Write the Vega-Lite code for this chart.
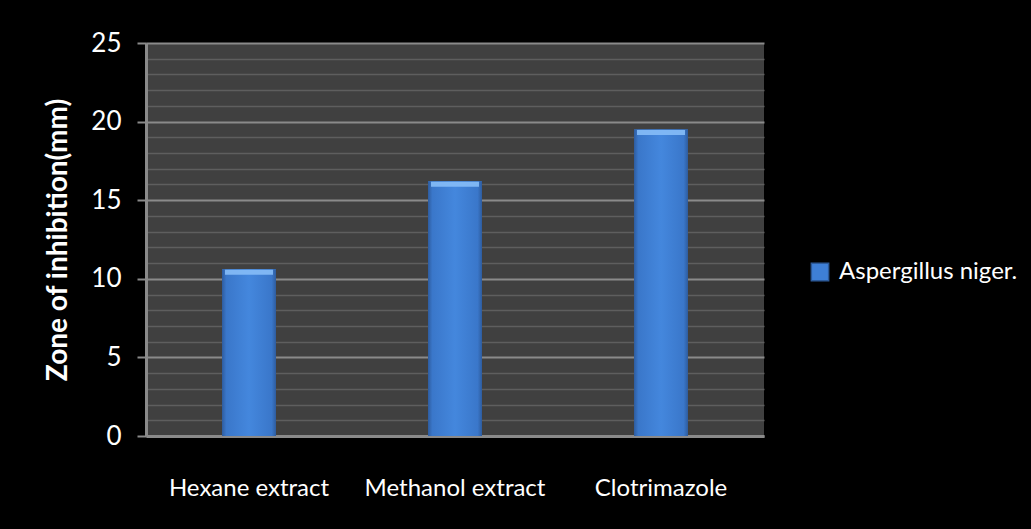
{
  "$schema": "https://vega.github.io/schema/vega-lite/v6.json",
  "autosize": {"type": "none"},
  "padding": {"left": 146, "top": 43, "right": 267, "bottom": 93},
  "width": 618,
  "height": 393,
  "background": "#000000",
  "config": {
    "view": {"fill": "#404040", "stroke": null},
    "font": "Lato"
  },
  "data": {
    "values": [
      {"category": "Hexane extract", "value": 10.6, "series": "Aspergillus niger."},
      {"category": "Methanol extract", "value": 16.2, "series": "Aspergillus niger."},
      {"category": "Clotrimazole", "value": 19.5, "series": "Aspergillus niger."}
    ]
  },
  "encoding": {
    "x": {
      "field": "category",
      "type": "nominal",
      "sort": null,
      "scale": {"paddingInner": 0, "paddingOuter": 0},
      "axis": {
        "title": null,
        "labelAngle": 0,
        "labelColor": "#ffffff",
        "labelFontSize": 24,
        "labelFont": "Lato",
        "labelLimit": 0,
        "labelPadding": 40,
        "ticks": false,
        "domainColor": "#8a8a8a",
        "domainWidth": 3,
        "grid": false
      }
    },
    "y": {
      "field": "value",
      "type": "quantitative",
      "scale": {"domain": [0, 25], "nice": false, "zero": true},
      "axis": {
        "title": "Zone of inhibition(mm)",
        "titleColor": "#ffffff",
        "titleFontSize": 28,
        "titleFont": "Lato",
        "titleFontWeight": "bold",
        "titlePadding": 18,
        "values": [0,1,2,3,4,5,6,7,8,9,10,11,12,13,14,15,16,17,18,19,20,21,22,23,24,25],
        "labelExpr": "datum.value % 5 === 0 ? datum.label : ''",
        "labelColor": "#ffffff",
        "labelFontSize": 26,
        "labelFont": "Lato",
        "labelPadding": 16,
        "tickSize": 9,
        "tickColor": "#8a8a8a",
        "tickWidth": 2,
        "tickOpacity": {"condition": {"test": "datum.value % 5 === 0", "value": 1}, "value": 0},
        "domainColor": "#8a8a8a",
        "domainWidth": 3,
        "grid": true,
        "gridColor": {"condition": {"test": "datum.value % 5 === 0", "value": "#8a8a8a"}, "value": "#5e5e5e"},
        "gridWidth": {"condition": {"test": "datum.value % 5 === 0", "value": 2}, "value": 1.5},
        "gridOpacity": 1
      }
    }
  },
  "layer": [
    {
      "mark": {"type": "bar", "size": 54},
      "encoding": {
        "color": {
          "field": "series",
          "type": "nominal",
          "scale": {"range": ["#3e7fd6"]},
          "legend": {
            "title": null,
            "orient": "none",
            "legendX": 662,
            "legendY": 217,
            "symbolType": "square",
            "symbolSize": 300,
            "symbolStrokeColor": "#2c5a9a",
            "symbolStrokeWidth": 1.5,
            "labelColor": "#ffffff",
            "labelFontSize": 24,
            "labelFont": "Lato",
            "labelLimit": 0,
            "labelOffset": 7
          }
        }
      }
    },
    {
      "mark": {
        "type": "bar",
        "size": 54,
        "color": {
          "gradient": "linear",
          "x1": 0, "y1": 0, "x2": 1, "y2": 0,
          "stops": [
            {"offset": 0, "color": "#2e5c9e"},
            {"offset": 0.08, "color": "#3a77ca"},
            {"offset": 0.5, "color": "#4487dd"},
            {"offset": 0.92, "color": "#3a77ca"},
            {"offset": 1, "color": "#2e5c9e"}
          ]
        }
      }
    },
    {
      "mark": {"type": "tick", "color": "#86bdf7", "size": 48, "thickness": 5, "yOffset": 3, "opacity": 0.9},
      "encoding": {
        "x": {"field": "category", "type": "nominal", "sort": null},
        "y": {"field": "value", "type": "quantitative"}
      }
    }
  ]
}
